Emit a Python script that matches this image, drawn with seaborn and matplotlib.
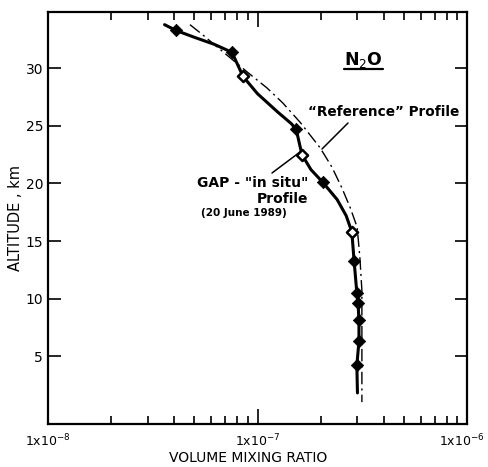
import numpy as np
import pandas as pd
import matplotlib
matplotlib.use("Agg")
import matplotlib.pyplot as plt
import matplotlib.transforms as mtransforms
import seaborn as sns

# --- data ---
# GAP "in situ" profile markers (volume mixing ratio, altitude km)
gap_vmr = [4.08e-8, 7.55e-8, 8.53e-8, 1.53e-7, 1.63e-7, 2.05e-7, 2.82e-7,
           2.89e-7, 2.98e-7, 3.02e-7, 3.05e-7, 3.05e-7, 2.98e-7]
gap_alt = [33.3, 31.4, 29.3, 24.7, 22.5, 20.1, 15.8, 13.3, 10.5, 9.6, 8.1, 6.3, 4.2]
gap_open = [False, False, True, False, True, False, True,
            False, False, False, False, False, False]

# full GAP curve (markers plus the ends / bends of the drawn line)
gap_line_vmr = [3.6e-8, 4.08e-8, 5.0e-8, 6.2e-8, 7.55e-8, 8.53e-8, 1.0e-7, 1.25e-7,
                1.45e-7, 1.53e-7, 1.63e-7, 1.8e-7, 2.05e-7, 2.4e-7, 2.65e-7, 2.82e-7,
                2.89e-7, 2.98e-7, 3.02e-7, 3.05e-7, 3.05e-7, 2.98e-7, 3.0e-7]
gap_line_alt = [33.8, 33.3, 32.7, 32.1, 31.4, 29.3, 27.8, 26.2,
                25.2, 24.7, 22.5, 21.2, 20.1, 18.6, 17.2, 15.8,
                13.3, 10.5, 9.6, 8.1, 6.3, 4.2, 1.8]

# "Reference" profile
ref_vmr = [4.76e-8, 5.49e-8, 8.91e-8, 1.11e-7, 1.32e-7, 1.60e-7, 1.99e-7,
           2.27e-7, 2.53e-7, 2.77e-7, 2.99e-7, 3.08e-7, 3.15e-7, 3.15e-7]
ref_alt = [33.8, 32.9, 29.7, 28.3, 27.0, 25.3, 23.1,
           21.4, 19.6, 17.9, 16.2, 13.6, 10.7, 1.0]

x_ticks = [1e-8, 1e-7, 1e-6]
x_tick_labels = ["1x10$^{-8}$", "1x10$^{-7}$", "1x10$^{-6}$"]
y_ticks = [5, 10, 15, 20, 25, 30]

sns.set_theme(style="ticks")
plt.rcParams['font.family'] = ['DejaVu Sans']
plt.rcParams['text.color'] = 'black'
plt.rcParams['axes.labelcolor'] = 'black'

fig = plt.figure(figsize=(4.88, 4.67), dpi=100)
ax = fig.add_axes([48 / 488, 43 / 467, 419 / 488, 412 / 467])

sns.lineplot(x=ref_vmr, y=ref_alt, sort=False, estimator=None, ax=ax,
             color="black", lw=1.0, linestyle=(0, (9, 3, 1.5, 3)))
sns.lineplot(x=gap_line_vmr, y=gap_line_alt, sort=False, estimator=None, ax=ax,
             color="black", lw=2.2)

df = pd.DataFrame({"vmr": gap_vmr, "alt": gap_alt, "open": gap_open})
sns.scatterplot(data=df[~df["open"]], x="vmr", y="alt", ax=ax, marker="D",
                s=40, color="black", edgecolor="black", zorder=5)
sns.scatterplot(data=df[df["open"]], x="vmr", y="alt", ax=ax, marker="D",
                s=32, color="white", edgecolor="black", linewidth=1.8, zorder=5)

ax.set_xscale("log")
ax.set_xlim(1e-8, 1e-6)
ax.set_ylim(-0.9, 34.9)
ax.set_xticks(x_ticks)
ax.set_xticklabels(x_tick_labels)
ax.set_yticks(y_ticks)

for s in ax.spines.values():
    s.set_linewidth(1.6)
    s.set_color("black")
ax.tick_params(axis="both", which="both", direction="in", top=True, right=True,
               colors="black", labelcolor="black")
ax.tick_params(axis="x", which="major", length=11, width=1.2, pad=6, labelsize=9)
ax.tick_params(axis="x", which="minor", length=6, width=1.2)
ax.tick_params(axis="y", which="major", length=9, width=1.2, labelsize=10)
ax.tick_params(axis="y", which="minor", left=False, right=False)

# pull the last tick label a little inside the figure edge
last = ax.get_xticklabels()[-1]
last.set_transform(last.get_transform() +
                   mtransforms.ScaledTranslation(-5 / 100, 0, fig.dpi_scale_trans))

ax.set_xlabel("VOLUME MIXING RATIO", fontsize=10, labelpad=1)
ax.set_ylabel("ALTITUDE , km", fontsize=10.5, labelpad=2)
ax.xaxis.set_label_coords(200 / 419, -27 / 412)

# annotations
fig.text(363 / 488, 1 - 60 / 467, "N$_2$O",
         ha="center", va="center", fontsize=12.5, fontweight="bold")
fig.add_artist(plt.Line2D([344 / 488, 383 / 488], [1 - 69 / 467, 1 - 69 / 467],
                          color="black", lw=1.6))
fig.text(384 / 488, 1 - 112 / 467, "\u201cReference\u201d Profile",
         ha="center", va="center", fontsize=9.8, fontweight="bold")
fig.add_artist(plt.Line2D([348 / 488, 322 / 488], [1 - 123 / 467, 1 - 149 / 467],
                          color="black", lw=1.1))
fig.text(253 / 488, 1 - 183 / 467, "GAP - \"in situ\"",
         ha="center", va="center", fontsize=10, fontweight="bold")
fig.text(282 / 488, 1 - 199 / 467, "Profile",
         ha="center", va="center", fontsize=10, fontweight="bold")
fig.text(244 / 488, 1 - 213 / 467, "(20 June 1989)",
         ha="center", va="center", fontsize=7.5, fontweight="bold")
fig.add_artist(plt.Line2D([272 / 488, 300 / 488], [1 - 173 / 467, 1 - 152 / 467],
                          color="black", lw=1.1))

fig.savefig("out.png", dpi=100)
